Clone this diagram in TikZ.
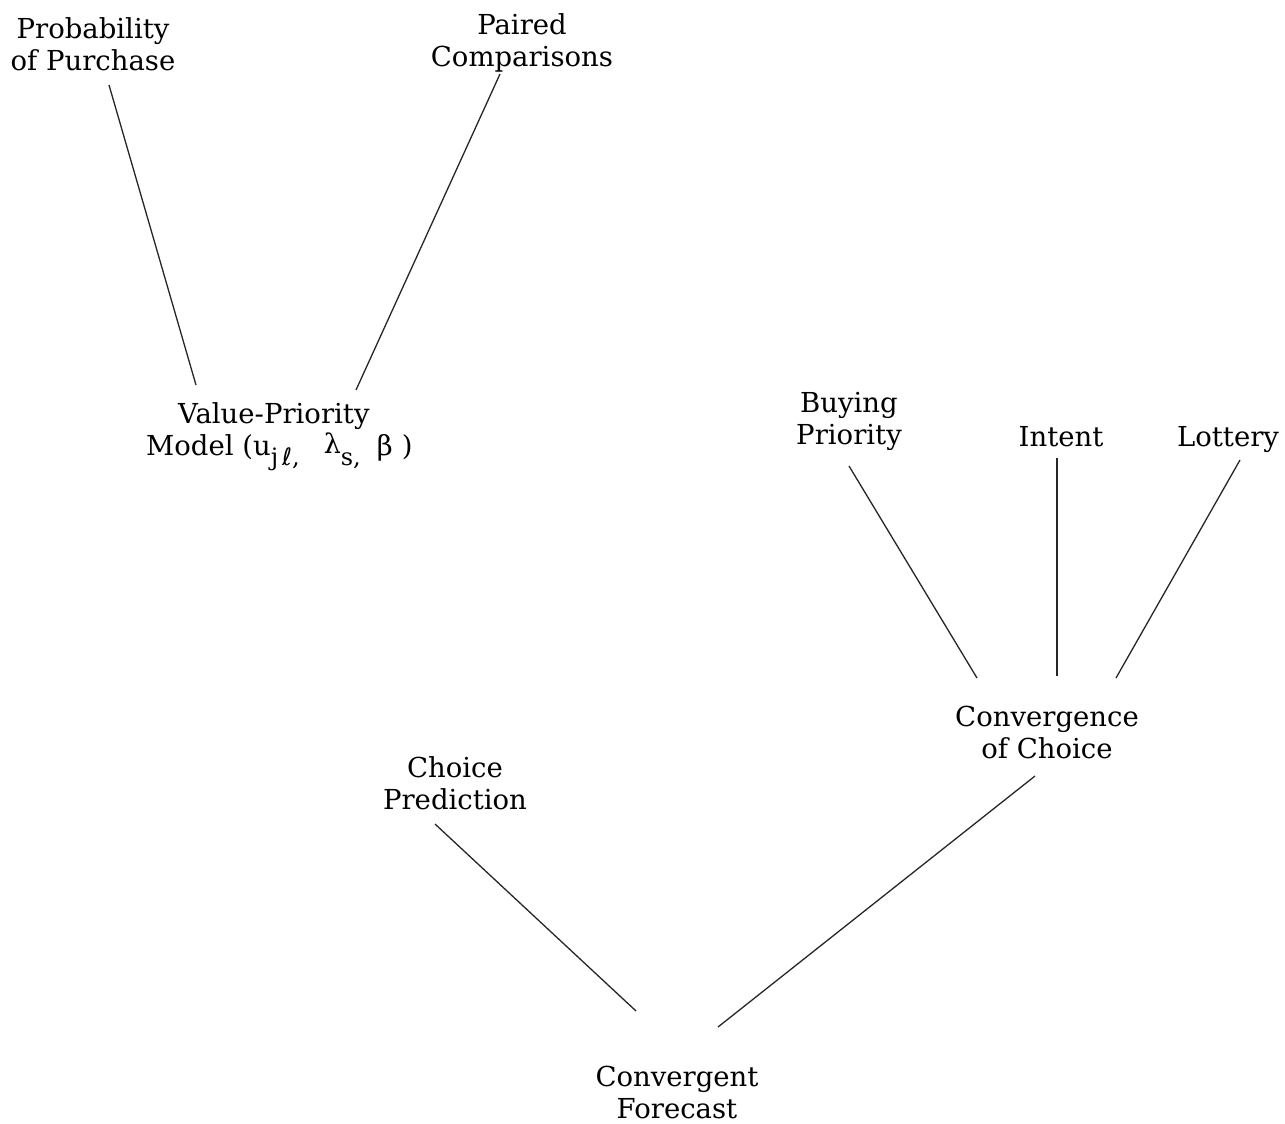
\documentclass[tikz,border=0pt]{standalone}
\usepackage{fontspec}
\setmainfont{DejaVu Serif}
\newfontfamily\ellfont{DejaVu Sans}
\newcommand{\lowsub}[1]{\raisebox{-10pt}{\fontsize{24}{24}\selectfont #1}}
\begin{document}
\begin{tikzpicture}[x=1pt,y=-1pt,
  lbl/.style={align=center, inner sep=0pt, font=\fontsize{27.5}{32}\selectfont},
  link/.style={line width=1.3pt, black!85}]
\useasboundingbox (0,0) rectangle (1285,1124);
\node[lbl] (pp) at (93,44) {Probability\\of Purchase};
\node[lbl] (pc) at (522,43) {Paired\\Comparisons};
\node[lbl, align=left, anchor=west] (vp) at (146,437) {\hspace*{32pt}Value-Priority\\Model (u\lowsub{j\,{\ellfont ℓ},}\hspace{24pt}\raisebox{2pt}{\fontsize{27}{27}\selectfont λ}\lowsub{s,}\hspace{16pt}β\,\,)};
\node[lbl] (bp) at (849,421) {Buying\\Priority};
\node[lbl, anchor=base] (in) at (1061,446) {Intent};
\node[lbl, anchor=base] (lo) at (1228,446) {Lottery};
\node[lbl] (cc) at (1047,732) {Convergence\\of Choice};
\node[lbl] (cp) at (455,783) {Choice\\Prediction};
\node[lbl] (cf) at (677,1092) {Convergent\\Forecast};
\coordinate (pp-e) at (109,85);
\coordinate (vp-a) at (196,385);
\coordinate (pc-e) at (500,74);
\coordinate (vp-b) at (356,390);
\coordinate (bp-e) at (849,466);
\coordinate (cc-a) at (977,678);
\coordinate (in-e) at (1057,458);
\coordinate (cc-b) at (1057,676);
\coordinate (lo-e) at (1240,460);
\coordinate (cc-c) at (1116,678);
\coordinate (cp-e) at (435,824);
\coordinate (cf-a) at (636,1011);
\coordinate (cc-e) at (1035,776);
\coordinate (cf-b) at (718,1027);
\draw[link] (pp-e) -- (vp-a);
\draw[link] (pc-e) -- (vp-b);
\draw[link] (bp-e) -- (cc-a);
\draw[link] (in-e) -- (cc-b);
\draw[link] (lo-e) -- (cc-c);
\draw[link] (cp-e) -- (cf-a);
\draw[link] (cc-e) -- (cf-b);
\end{tikzpicture}
\end{document}
